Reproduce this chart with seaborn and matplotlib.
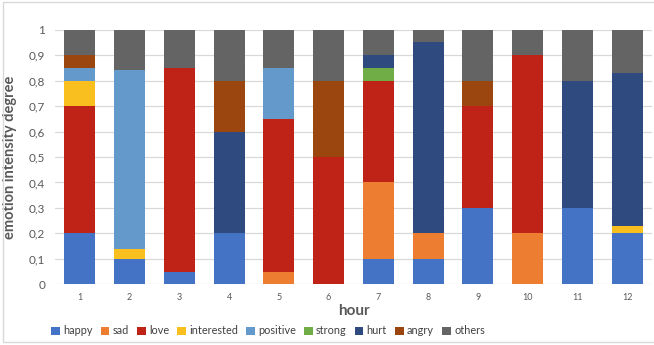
import numpy as np
import pandas as pd
import matplotlib
matplotlib.use("Agg")
import matplotlib.pyplot as plt
import seaborn as sns
from matplotlib.patches import Rectangle

hours = ["1", "2", "3", "4", "5", "6", "7", "8", "9", "10", "11", "12"]

emotions = ["happy", "sad", "love", "interested", "positive",
            "strong", "hurt", "angry", "others"]

happy      = [0.20, 0.10, 0.05, 0.20, 0.00, 0.00, 0.10, 0.10, 0.30, 0.00, 0.30, 0.20]
sad        = [0.00, 0.00, 0.00, 0.00, 0.05, 0.00, 0.30, 0.10, 0.00, 0.20, 0.00, 0.00]
love       = [0.50, 0.00, 0.80, 0.00, 0.60, 0.50, 0.40, 0.00, 0.40, 0.70, 0.00, 0.00]
interested = [0.10, 0.04, 0.00, 0.00, 0.00, 0.00, 0.00, 0.00, 0.00, 0.00, 0.00, 0.03]
positive   = [0.05, 0.70, 0.00, 0.00, 0.20, 0.00, 0.00, 0.00, 0.00, 0.00, 0.00, 0.00]
strong     = [0.00, 0.00, 0.00, 0.00, 0.00, 0.00, 0.05, 0.00, 0.00, 0.00, 0.00, 0.00]
hurt       = [0.00, 0.00, 0.00, 0.40, 0.00, 0.00, 0.05, 0.75, 0.00, 0.00, 0.50, 0.60]
angry      = [0.05, 0.00, 0.00, 0.20, 0.00, 0.30, 0.00, 0.00, 0.10, 0.00, 0.00, 0.00]
others     = [0.10, 0.16, 0.15, 0.20, 0.15, 0.20, 0.10, 0.05, 0.20, 0.10, 0.20, 0.17]

colors = ["#4472C4", "#ED7D31", "#BF2318", "#F9BF1E", "#6399CB",
          "#70AD47", "#2E4A7E", "#9A460E", "#646464"]

series = [happy, sad, love, interested, positive, strong, hurt, angry, others]
values = np.array(series)
tops = np.cumsum(values, axis=0)

sns.set_theme(style="white")
plt.rcParams["font.family"] = ["Lato", "DejaVu Sans"]

fig = plt.figure(figsize=(6.54, 3.45), dpi=100)
ax = fig.add_axes([55 / 654, 1 - 284.3 / 345, (652 - 55) / 654, (284.3 - 29.7) / 345])

# Stacked bars: draw cumulative heights from the top layer down
for i in range(len(emotions) - 1, -1, -1):
    df = pd.DataFrame({"hour": hours, "top": tops[i]})
    sns.barplot(data=df, x="hour", y="top", color=colors[i], width=0.62,
                saturation=1, ax=ax, zorder=3, linewidth=0, order=hours)

ax.set_xlim(-0.5, 11.5)
ax.set_ylim(0, 1)
yt = np.round(np.arange(0, 1.01, 0.1), 1)
ax.set_yticks(yt)
ax.set_yticklabels([("%g" % v).replace(".", ",") for v in yt],
                   fontsize=8.5, color="#595959")
ax.tick_params(axis="x", labelsize=6.5, labelcolor="#595959", length=0, pad=6)
ax.tick_params(axis="y", length=0, pad=7)
ax.yaxis.grid(True, color="#D9D9D9", linewidth=0.9, zorder=0)
ax.set_axisbelow(True)
for s in ax.spines.values():
    s.set_visible(False)

ax.set_xlabel("hour", fontsize=11, fontweight="bold", color="#595959", labelpad=2)
ax.set_ylabel("emotion intensity degree", fontsize=10.5, fontweight="bold",
              color="#595959")
ax.yaxis.set_label_coords(-38 / 597, 0.5)

handles = [Rectangle((0, 0), 1, 1, facecolor=c, edgecolor="none") for c in colors]
fig.legend(handles, emotions, loc="center", bbox_to_anchor=(268 / 654, 1 - 331 / 345),
           ncol=9, frameon=False, fontsize=7.8, handlelength=0.8, handleheight=0.8,
           handletextpad=0.3, columnspacing=0.75, labelcolor="#404040")

# Chart-area border
fig.add_artist(Rectangle((3 / 654, 3 / 345), 1.2, 1 - 5 / 345, transform=fig.transFigure,
                         fill=False, edgecolor="#D9D9D9", linewidth=1.0))

fig.savefig("out.png", dpi=100)
